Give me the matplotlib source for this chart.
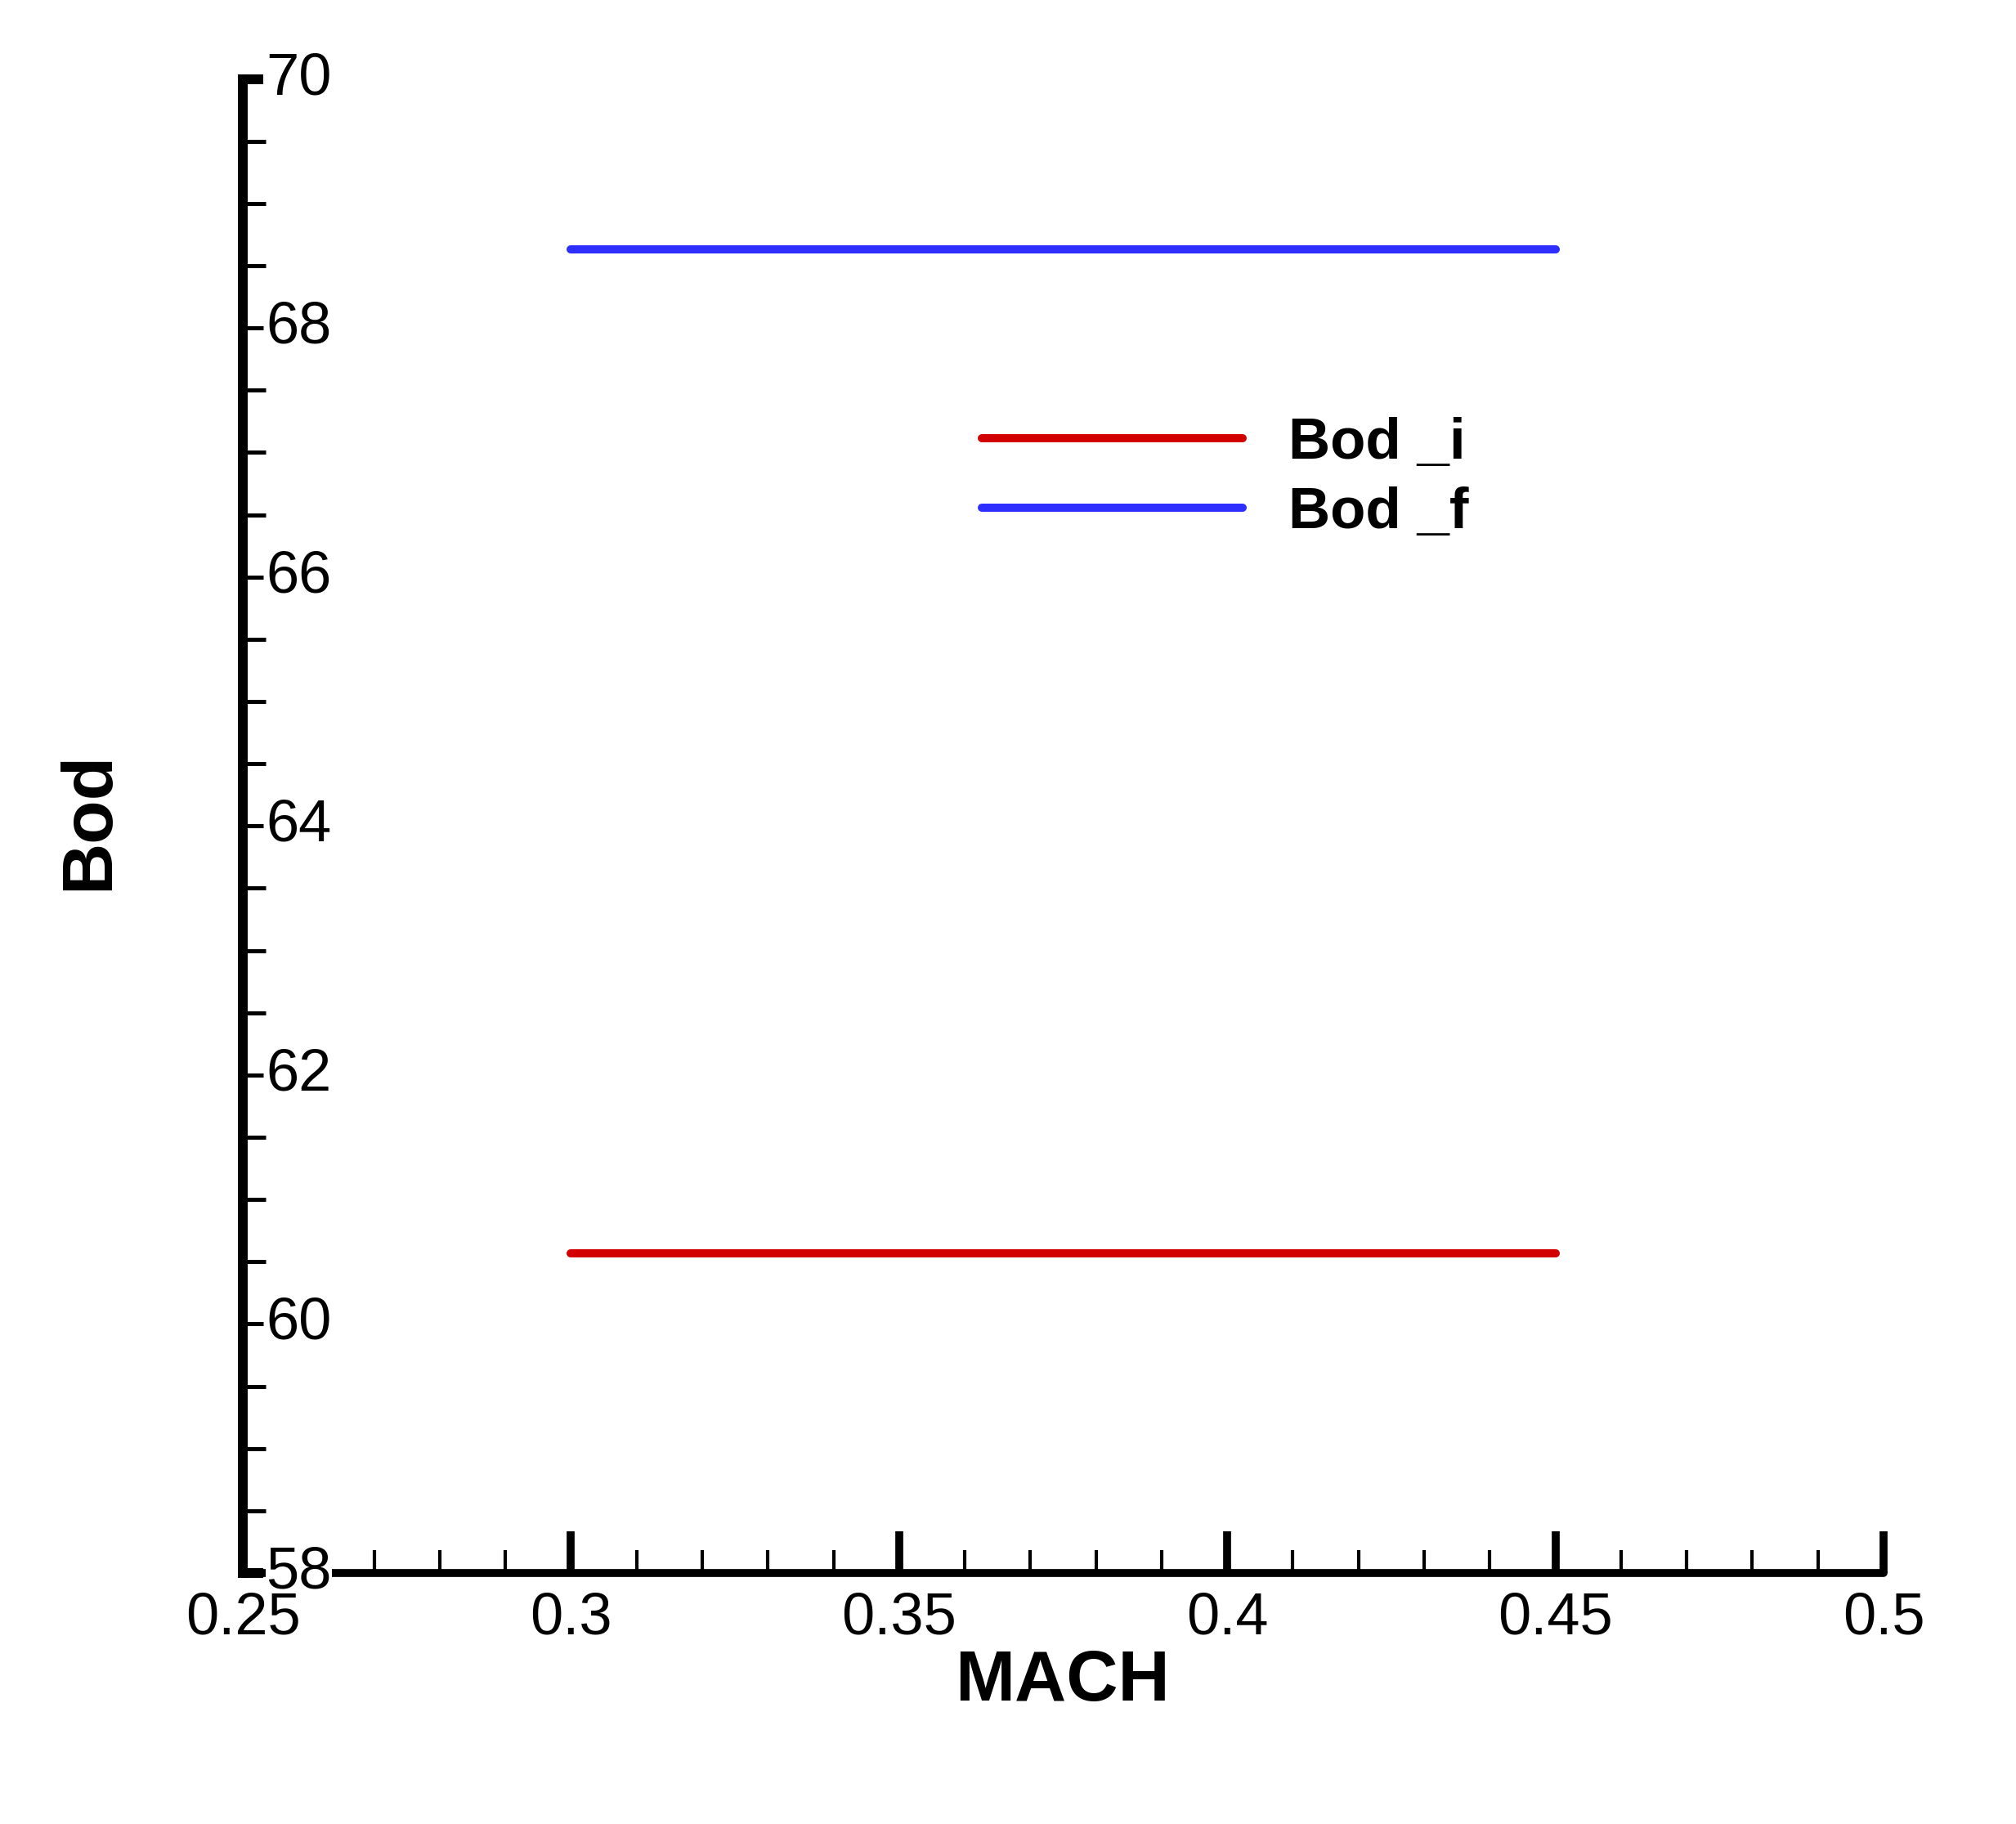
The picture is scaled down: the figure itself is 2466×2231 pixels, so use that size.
import matplotlib
matplotlib.use("Agg")
import matplotlib.pyplot as plt
from matplotlib.ticker import MultipleLocator, FuncFormatter, FixedLocator

# ---- data ----
mach = [0.30, 0.45]
bod_i = [60.57, 60.57]
bod_f = [68.63, 68.63]
series_labels = ["Bod _i", "Bod _f"]
x_ticks = [0.25, 0.30, 0.35, 0.40, 0.45, 0.50]
y_ticks = [58, 60, 62, 64, 66, 68, 70]

W, H, DPI = 2466, 2231, 100
plt.rcParams['font.family'] = ['Liberation Sans', 'DejaVu Sans']

fig = plt.figure(figsize=(W / DPI, H / DPI), dpi=DPI)
ax = fig.add_axes([297 / W, 1 - 1924 / H, (2304 - 297) / W, (1924 - 96.5) / H])

red = '#D20000'
blue = '#2E2EFF'
ax.plot(mach, bod_i, color=red, lw=7.2, solid_capstyle='round', label=series_labels[0], zorder=2)
ax.plot(mach, bod_f, color=blue, lw=7.2, solid_capstyle='round', label=series_labels[1], zorder=2)

ax.set_xlim(x_ticks[0], x_ticks[-1])
ax.set_ylim(y_ticks[0], y_ticks[-1])

for s in ['top', 'right']:
    ax.spines[s].set_visible(False)
ax.spines['left'].set_linewidth(8.6)
ax.spines['left'].set_capstyle('projecting')
ax.spines['bottom'].set_linewidth(7.0)
ax.spines['bottom'].set_capstyle('round')

ax.xaxis.set_major_locator(FixedLocator(x_ticks))
ax.xaxis.set_minor_locator(MultipleLocator(0.01))
ax.yaxis.set_major_locator(FixedLocator(y_ticks))
ax.yaxis.set_minor_locator(MultipleLocator(0.5))
ax.xaxis.set_major_formatter(FuncFormatter(lambda v, p: '%g' % round(v, 4)))
ax.yaxis.set_major_formatter(FuncFormatter(lambda v, p: '%g' % v))

ax.tick_params(axis='x', which='major', direction='in', length=36.7, width=7.0,
               labelsize=52, pad=16.5, color='black')
ax.tick_params(axis='x', which='minor', direction='in', length=20, width=3.0)
ax.tick_params(axis='y', which='major', direction='in', length=18, width=3.6,
               labelsize=52, pad=-20.5)
ax.tick_params(axis='y', which='minor', direction='in', length=20, width=3.6)

ax.yaxis.set_zorder(3)
ax.xaxis.set_zorder(3.5)

fig.canvas.draw()
yt = ax.yaxis.get_major_ticks()
for t in (yt[0], yt[-1]):
    t.tick1line.set_markeredgewidth(8.6)
for lab in ax.get_yticklabels():
    lab.set_horizontalalignment('left')
    lab.set_verticalalignment('center')
    lab.set_bbox(dict(facecolor='white', edgecolor='none', pad=0))
# first minor x tick sits under the "58" label box in the reference
for t in ax.xaxis.get_minor_ticks():
    if abs(t.get_loc() - (x_ticks[0] + 0.01)) < 1e-6:
        t.tick1line.set_visible(False)

ax.set_xlabel('MACH', fontsize=63, fontweight='bold')
ax.xaxis.set_label_coords((1299 - 297) / 2007, (1924 - 2017) / 1827.5)
ax.set_ylabel('Bod', fontsize=63, fontweight='bold')
ax.yaxis.set_label_coords((150 - 297) / 2007, (1924 - 1004) / 1827.5)

leg = ax.legend(loc='center left', bbox_to_anchor=(1201 / W, 1 - 585.5 / H),
                bbox_transform=fig.transFigure, frameon=False,
                prop={'weight': 'bold', 'size': 51}, handlelength=4.5,
                handletextpad=0.79, labelspacing=0.26, borderpad=0, borderaxespad=0)

fig.savefig('out.png', dpi=DPI)
